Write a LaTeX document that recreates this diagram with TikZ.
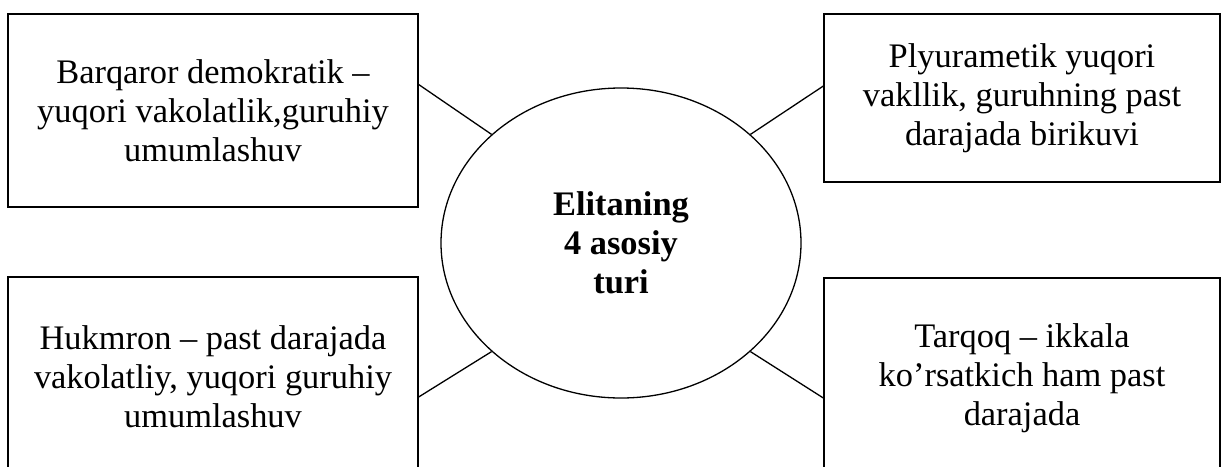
\documentclass[tikz,border=0pt]{standalone}
\usepackage{fontspec}
\setmainfont{Liberation Serif}
\usetikzlibrary{shapes.geometric}
\begin{document}
\begin{tikzpicture}[x=1pt,y=-1pt,
  box/.style={draw,line width=1.3pt,rectangle,inner sep=0pt,align=center,
    font=\fontsize{34.4}{39}\selectfont},
  hub/.style={draw,line width=1.3pt,ellipse,inner sep=0pt,minimum width=360pt,
    minimum height=310pt,align=center,font=\fontsize{34.4}{39}\selectfont\bfseries},
  link/.style={line width=1.3pt}]
\useasboundingbox (0,0) rectangle (1223,466);
\clip (0,0) rectangle (1223,466);
\node[box,minimum width=410pt,minimum height=193pt] (tl) at (213,110.5)
  {Barqaror demokratik –\\yuqori vakolatlik,guruhiy\\umumlashuv};
\node[box,minimum width=396pt,minimum height=168pt] (tr) at (1022,98)
  {Plyurametik yuqori\\vakllik, guruhning past\\darajada birikuvi};
\node[box,minimum width=410pt,minimum height=200pt] (bl) at (213,377)
  {Hukmron – past darajada\\vakolatliy, yuqori guruhiy\\umumlashuv};
\node[box,minimum width=396pt,minimum height=200pt] (br) at (1022,378)
  {Tarqoq – ikkala\\ko’rsatkich ham past\\darajada};
\node[hub] (el) at (621,243) {Elitaning\\4 asosiy\\turi};
\draw[link] ([yshift=26pt]tl.east) -- (el.140);
\draw[link] ([yshift=12pt]tr.west) -- (el.40);
\draw[link] ([yshift=-20pt]bl.east) -- (el.220);
\draw[link] ([yshift=-20pt]br.west) -- (el.320);
\end{tikzpicture}
\end{document}
